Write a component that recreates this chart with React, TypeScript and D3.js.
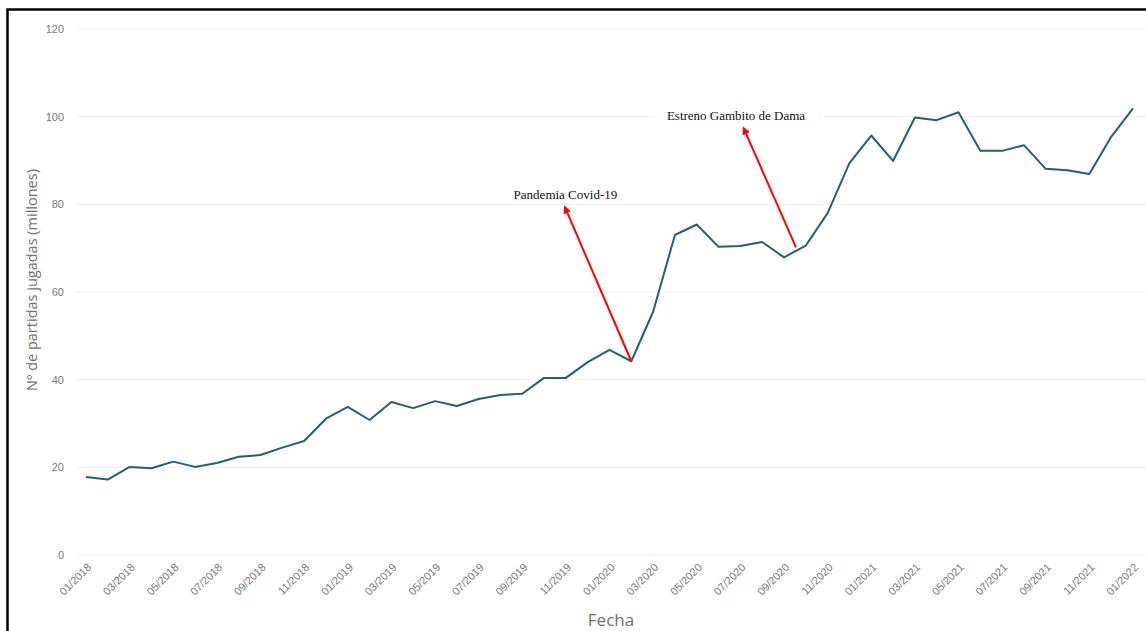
import * as React from 'react';
import * as d3 from 'd3';

// monthly games played (millions), 01/2018 .. 01/2022
const months = [
  '01/2018', '02/2018', '03/2018', '04/2018', '05/2018', '06/2018', '07/2018', '08/2018', '09/2018', '10/2018', '11/2018', '12/2018',
  '01/2019', '02/2019', '03/2019', '04/2019', '05/2019', '06/2019', '07/2019', '08/2019', '09/2019', '10/2019', '11/2019', '12/2019',
  '01/2020', '02/2020', '03/2020', '04/2020', '05/2020', '06/2020', '07/2020', '08/2020', '09/2020', '10/2020', '11/2020', '12/2020',
  '01/2021', '02/2021', '03/2021', '04/2021', '05/2021', '06/2021', '07/2021', '08/2021', '09/2021', '10/2021', '11/2021', '12/2021',
  '01/2022',
];
const games = [
  17.8, 17.2, 20.1, 19.8, 21.3, 20.1, 21.0, 22.4, 22.8, 24.5, 26.0, 31.1,
  33.8, 30.8, 34.9, 33.5, 35.1, 34.0, 35.6, 36.5, 36.8, 40.4, 40.4, 44.0,
  46.8, 44.2, 55.5, 73.0, 75.4, 70.3, 70.5, 71.4, 67.9, 70.6, 78.0, 89.4,
  95.7, 89.9, 99.8, 99.2, 101.0, 92.2, 92.2, 93.5, 88.1, 87.8, 86.9, 95.4,
  101.9,
];
const yTicks = [0, 20, 40, 60, 80, 100, 120];

// annotations: label position and arrow (month index, value)
const notes = [
  { label: 'Pandemia Covid-19', tx: 21.98, ty: 81.2, from: [25, 44.2], to: [21.95, 79.4] },
  { label: 'Estreno Gambito de Dama', tx: 29.8, ty: 99.2, from: [32.55, 70.2], to: [30.15, 97.4] },
];

export default function App() {
  const ref = React.useRef<SVGSVGElement>(null);

  React.useEffect(() => {
    const width = 1146;
    const height = 631;
    const svg = d3.select(ref.current);
    svg.selectAll('*').remove();

    const x = d3.scaleLinear().domain([0, months.length - 1]).range([86, 1133]);
    const y = d3.scaleLinear().domain([0, 120]).range([555, 29]);

    svg.append('rect')
      .attr('width', width).attr('height', height).attr('fill', '#fff');
    svg.append('rect')
      .attr('x', 7.5).attr('y', 9.5).attr('width', 1160).attr('height', 660)
      .attr('fill', 'none').attr('stroke', '#000').attr('stroke-width', 2.5);

    svg.append('defs').append('marker')
      .attr('id', 'arrow').attr('viewBox', '0 0 10 10')
      .attr('refX', 8).attr('refY', 5)
      .attr('markerWidth', 4).attr('markerHeight', 4)
      .attr('orient', 'auto')
      .append('path').attr('d', 'M0,0L10,5L0,10z').attr('fill', '#ff0000');

    // gridlines
    svg.append('g').selectAll('line').data(yTicks).join('line')
      .attr('x1', 75).attr('x2', 1146)
      .attr('y1', d => y(d)).attr('y2', d => y(d))
      .attr('stroke', '#efefef').attr('stroke-width', 1);

    // y tick labels
    svg.append('g').selectAll('text').data(yTicks).join('text')
      .attr('x', 64).attr('y', d => y(d)).attr('dy', '0.35em')
      .attr('text-anchor', 'end')
      .attr('font-family', 'Liberation Sans, Arial, sans-serif')
      .attr('font-size', 11).attr('fill', '#7a7a7a')
      .text(d => d);

    // x tick labels (every two months)
    const shown = months.map((m, i) => ({ m, i })).filter(d => d.i % 2 === 0);
    svg.append('g').selectAll('text').data(shown).join('text')
      .attr('transform', d => `translate(${x(d.i) + 6},${568}) rotate(-45)`)
      .attr('text-anchor', 'end')
      .attr('font-family', 'Liberation Sans, Arial, sans-serif')
      .attr('font-size', 11).attr('fill', '#7a7a7a')
      .text(d => d.m);

    // axis titles
    svg.append('text')
      .attr('transform', `translate(37,${280}) rotate(-90)`)
      .attr('text-anchor', 'middle')
      .attr('font-family', 'Open Sans, sans-serif')
      .attr('font-size', 14.5).attr('fill', '#707070')
      .text('Nº de partidas jugadas (millones)');
    svg.append('text')
      .attr('x', 611).attr('y', 626)
      .attr('text-anchor', 'middle')
      .attr('font-family', 'Open Sans, sans-serif')
      .attr('font-size', 17).attr('fill', '#707070')
      .text('Fecha');

    // line
    const line = d3.line<number>()
      .x((_, i) => x(i))
      .y(d => y(d));
    svg.append('path')
      .datum(games)
      .attr('fill', 'none')
      .attr('stroke', '#245e78')
      .attr('stroke-width', 2)
      .attr('stroke-linejoin', 'round')
      .attr('d', line);

    // annotations
    const ann = svg.append('g');
    notes.forEach(n => {
      ann.append('line')
        .attr('x1', x(n.from[0])).attr('y1', y(n.from[1]))
        .attr('x2', x(n.to[0])).attr('y2', y(n.to[1]))
        .attr('stroke', '#ff0000').attr('stroke-width', 2)
        .attr('marker-end', 'url(#arrow)');
      const t = ann.append('text')
        .attr('x', x(n.tx)).attr('y', y(n.ty))
        .attr('text-anchor', 'middle')
        .attr('font-family', 'Liberation Serif, Times New Roman, serif')
        .attr('font-size', 13).attr('fill', '#111')
        .text(n.label);
      const bb = (t.node() as SVGTextElement).getBBox();
      ann.insert('rect', () => t.node() as SVGTextElement)
        .attr('x', bb.x - 12).attr('y', bb.y)
        .attr('width', bb.width + 24).attr('height', bb.height)
        .attr('fill', '#fff');
    });
  }, []);

  return (
    <svg ref={ref} width={1146} height={631}
      style={{ position: 'absolute', left: 0, top: 0, display: 'block' }} />
  );
}
